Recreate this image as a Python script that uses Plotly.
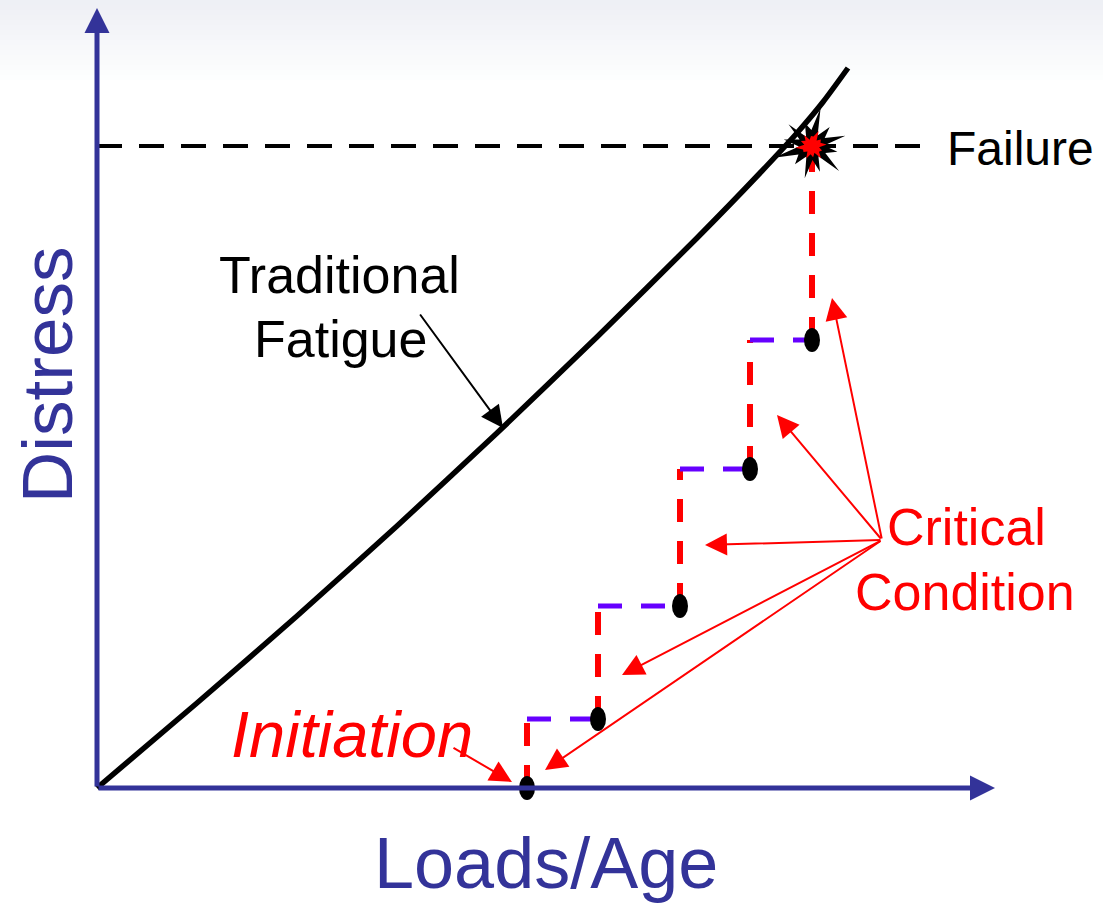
import plotly.graph_objects as go
import math

# ---- data (x = loads/age units, y = distress units) ----
curve_x = [0, 100, 200, 300, 400, 500, 600, 663, 700, 726, 751]
curve_y = [0, 85, 172, 262, 355, 451, 550, 615, 655, 686, 720]

failure_level = 642
failure_x_end = 833
failure_point_x = 715

step_x = [430, 501, 583, 653, 715]
step_y = [0, 69, 182, 319, 448]

critical_tail = (785, 248)
critical_tips_x = [735, 680, 608, 525, 448]
critical_tips_y = [490, 373, 243, 113, 18]

initiation_tail = (355, 41)
initiation_tip = (415, 6)
fatigue_tail = (322, 475)
fatigue_tip = (406, 360)

x_axis_end = 898
y_axis_end = 780

star_outer = [35, 26, 39, 24, 32, 29, 40, 25, 33, 27, 37, 26]
star_inner = [15, 12, 16, 11, 14, 13, 16, 12, 14, 12, 15, 12]

AXIS = "#333399"
RED = "#FF0000"
PURPLE = "#6600FF"
FONT = "Liberation Sans, Arial, sans-serif"

fig = go.Figure()

# background gradient at top
bands = 16
for i in range(bands):
    t = i / bands
    c = [int(238 + (255 - 238) * t), int(240 + (255 - 240) * t), int(245 + (255 - 245) * t)]
    fig.add_shape(type="rect", xref="paper", yref="paper", x0=0, x1=1,
                  y1=1 - i * 5 / 904, y0=1 - (i + 1) * 5 / 904,
                  fillcolor=f"rgb({c[0]},{c[1]},{c[2]})", line_width=0, layer="below")

# failure dashed line
fig.add_trace(go.Scatter(x=[0, failure_x_end], y=[failure_level, failure_level], mode="lines",
                         line=dict(color="black", width=4, dash="25px,17px"), hoverinfo="skip"))

# staircase: red verticals and purple horizontals
for i in range(len(step_x)):
    x0, y0 = step_x[i], step_y[i]
    y1 = step_y[i + 1] if i + 1 < len(step_x) else failure_level
    fig.add_trace(go.Scatter(x=[x0, x0], y=[y0, y1], mode="lines",
                             line=dict(color=RED, width=6, dash="23px,19px"), hoverinfo="skip"))
    if i + 1 < len(step_x):
        fig.add_trace(go.Scatter(x=[x0, step_x[i + 1]], y=[y1, y1], mode="lines",
                                 line=dict(color=PURPLE, width=5, dash="24px,19px"), hoverinfo="skip"))

# traditional fatigue curve
fig.add_trace(go.Scatter(x=curve_x, y=curve_y, mode="lines",
                         line=dict(color="black", width=5.5, shape="spline", smoothing=0.6),
                         hoverinfo="skip"))

# dots (ellipses)
for x, y in zip(step_x, step_y):
    fig.add_shape(type="circle", xref="x", yref="y", x0=x - 8, x1=x + 8, y0=y - 12, y1=y + 12,
                  fillcolor="black", line_width=0)

# explosion star
def star_path(outer, inner, cx, cy, rot):
    n = len(outer)
    pts = []
    for k in range(n):
        a = rot + 2 * math.pi * k / n
        pts.append((cx + outer[k] * math.cos(a), cy + outer[k] * math.sin(a)))
        a2 = a + math.pi / n
        pts.append((cx + inner[k] * math.cos(a2), cy + inner[k] * math.sin(a2)))
    return "M " + " L ".join(f"{px:.1f},{py:.1f}" for px, py in pts) + " Z"

fig.add_shape(type="path", xref="x", yref="y",
              path=star_path(star_outer, star_inner, failure_point_x, failure_level, 0.3),
              fillcolor="black", line_width=0)
fig.add_shape(type="path", xref="x", yref="y",
              path=star_path([o * 0.42 for o in star_outer], [i * 0.6 for i in star_inner],
                             failure_point_x, failure_level, 0.1),
              fillcolor=RED, line_width=0)

# axes arrows
fig.add_annotation(x=x_axis_end, y=0, ax=0, ay=0, xref="x", yref="y", axref="x", ayref="y",
                   text="", showarrow=True, arrowhead=2, arrowsize=1.0, arrowwidth=5, arrowcolor=AXIS, standoff=0)
fig.add_annotation(x=0, y=y_axis_end, ax=0, ay=0, xref="x", yref="y", axref="x", ayref="y",
                   text="", showarrow=True, arrowhead=2, arrowsize=1.0, arrowwidth=5, arrowcolor=AXIS, standoff=0)

# critical condition arrows
for tx, ty in zip(critical_tips_x, critical_tips_y):
    fig.add_annotation(x=tx, y=ty, ax=critical_tail[0], ay=critical_tail[1], xref="x", yref="y",
                       axref="x", ayref="y", text="", showarrow=True, arrowhead=2, arrowsize=2.2,
                       arrowwidth=2, arrowcolor=RED, standoff=0)
fig.add_annotation(x=initiation_tip[0], y=initiation_tip[1], ax=initiation_tail[0], ay=initiation_tail[1],
                   xref="x", yref="y", axref="x", ayref="y", text="", showarrow=True, arrowhead=2,
                   arrowsize=2.2, arrowwidth=2, arrowcolor=RED, standoff=0)
fig.add_annotation(x=fatigue_tip[0], y=fatigue_tip[1], ax=fatigue_tail[0], ay=fatigue_tail[1],
                   xref="x", yref="y", axref="x", ayref="y", text="", showarrow=True, arrowhead=2,
                   arrowsize=2.2, arrowwidth=2, arrowcolor="black", standoff=0)

# texts
def label(text, x, y, size, color, angle=0, italic=False):
    fig.add_annotation(x=x, y=y, xref="x", yref="y", text=f"<i>{text}</i>" if italic else text,
                       showarrow=False, textangle=angle, xanchor="center", yanchor="middle",
                       font=dict(family=FONT, size=size, color=color))

label("Traditional", 242, 513, 52, "black")
label("Fatigue", 243, 449, 52, "black")
label("Failure", 923, 640, 48, "black")
label("Critical", 869, 261, 52, RED)
label("Condition", 868, 196, 52, RED)
label("Initiation", 255, 54, 65, RED, italic=True)
label("Loads/Age", 449, -75, 72, AXIS)
label("Distress", -50, 413, 71, AXIS, angle=-90)

fig.update_layout(
    width=1103, height=904, margin=dict(l=0, r=0, t=0, b=0),
    paper_bgcolor="white", plot_bgcolor="rgba(0,0,0,0)", showlegend=False,
    xaxis=dict(range=[-97, 1006], visible=False, fixedrange=True),
    yaxis=dict(range=[-116, 788], visible=False, fixedrange=True),
)

fig.write_html("out.html", config={"displayModeBar": False},
               post_script="document.body.style.margin='0';document.body.style.overflow='hidden';")
